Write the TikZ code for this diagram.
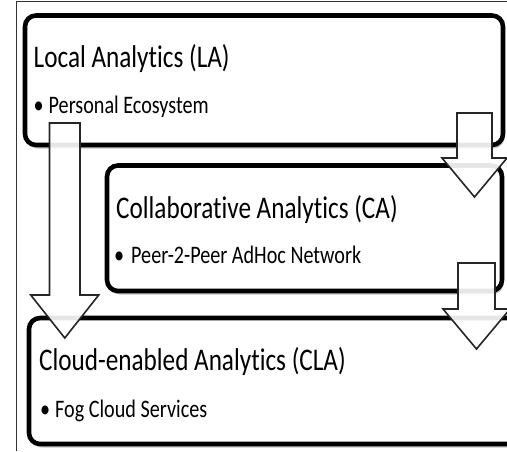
\documentclass[tikz,border=0pt]{standalone}
\usepackage{fontspec}
\setmainfont{Carlito}[FakeStretch=0.8, Ligatures=NoCommon]
\usetikzlibrary{shadows}
\begin{document}
\begin{tikzpicture}[x=1pt,y=-1pt,
  box/.style={draw=black, line width=4.6pt, rounded corners=11pt, fill=white,
    inner sep=0pt, outer sep=0pt,
    drop shadow={shadow xshift=1.5pt, shadow yshift=-3.5pt, opacity=0.22, fill=black}},
  ttl/.style={anchor=base west, inner sep=0pt, font=\fontsize{31.5}{36}\selectfont},
  itm/.style={anchor=base west, inner sep=0pt, font=\fontsize{25.2}{30}\selectfont},
  barrow/.style={draw=black!85, line width=1.6pt, fill=white, fill opacity=0.9, line join=miter},
  frame/.style={draw=black!80, line width=1pt},
  pics/downarrow/.style n args={4}{code={
    \draw[barrow] (-#1,0) -- (#1,0) -- (#1,#3) -- (#2,#3) -- (0,{#3+#4})
      -- (-#2,#3) -- (-#1,#3) -- cycle;}}]
\useasboundingbox (0,0) rectangle (507,451);
\fill[white] (0,0) rectangle (507,451);
% thin frame lines
\coordinate (ftl) at (16.5,1);
\coordinate (fbl) at (16.5,451);
\coordinate (ftr) at (507,1);
\draw[frame] (fbl) -- (ftl) -- (ftr);
% boxes
\node[box, minimum width=478pt, minimum height=129.5pt] (la) at (264,80.25) {};
\node[box, minimum width=395pt, minimum height=125.5pt] (ca) at (304.5,228.25) {};
\node[box, minimum width=490pt, minimum height=126pt] (cla) at (274,381) {};
% texts
\node[ttl] (latitle) at (33.5,67) {Local Analytics (LA)};
\node[itm] (labul) at (33.5,113) {•};
\node[itm] (latxt) at (48.5,113) {Personal Ecosystem};
\node[ttl] (catitle) at (116,218) {Collaborative Analytics (CA)};
\node[itm] (cabul) at (114,263) {•};
\node[itm] (catxt) at (131,263) {Peer-2-Peer AdHoc Network};
\node[ttl] (clatitle) at (39,370) {Cloud-enabled Analytics (CLA)};
\node[itm] (clabul) at (40,417) {•};
\node[itm] (clatxt) at (55,417) {Fog Cloud Services};
% block arrows
\pic at (64.75,123) {downarrow={15.25}{34}{172}{43}};
\pic at (474.5,113) {downarrow={17.5}{32.5}{45}{39}};
\pic at (476.5,263) {downarrow={18.5}{33.5}{46}{40}};
\end{tikzpicture}
\end{document}
